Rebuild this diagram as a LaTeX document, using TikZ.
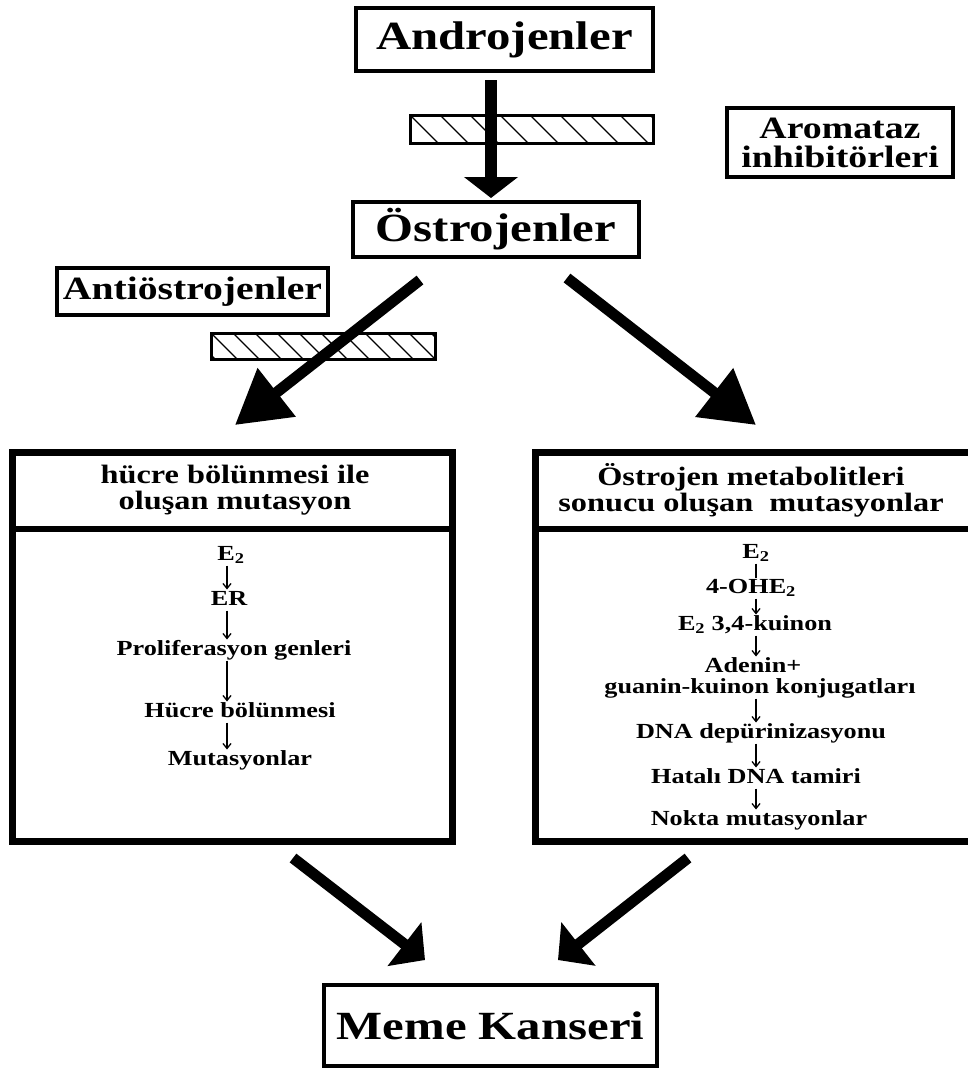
\documentclass[tikz,border=0pt]{standalone}
\usepackage{fontspec}
\newfontfamily\tf{Liberation Serif}[FakeStretch=1.22]
\usetikzlibrary{arrows.meta,calc}
\newcommand\myfs[2]{\fontsize{#1}{#2}\selectfont}
\begin{document}
\begin{tikzpicture}[x=1pt,y=-1pt,
  tbox/.style={draw, line width=4pt, inner sep=0pt, outer sep=0pt, align=center},
  bigfont/.style={font=\tf\bfseries\myfs{40}{44}},
  hfont/.style={font=\tf\bfseries\myfs{26.5}{26}, align=center, inner sep=0pt},
  ct/.style={font=\tf\bfseries\myfs{21.5}{22}, inner sep=1pt, outer sep=0pt, text height=15pt, text depth=4pt},
  hbar/.style={draw, line width=3pt, inner sep=0pt, outer sep=0pt,
    path picture={\foreach \k in {-2,...,14}{\draw[line width=1.4pt] ([xshift=\k*#1]path picture bounding box.north west) -- ++(40pt,-40pt);}}},
  bigbox/.style={draw, line width=7pt, inner sep=0pt, outer sep=0pt, minimum height=389},
  arrV/.style={line width=12pt, -{Triangle[length=21pt,width=53pt]}},
  arrD/.style={line width=11pt, -{Triangle[length=53pt,width=59pt]}},
  arrB/.style={line width=11pt, -{Triangle[length=26pt,width=54pt]}},
  smallarr/.style={line width=1.3pt, -{Straight Barb[length=5pt,width=8pt]}},
  divline/.style={line width=6.5pt}
]
\useasboundingbox (0,0) rectangle (968,1068);

% top part
\node[tbox, minimum width=297, minimum height=63, bigfont] (andro) at (504.5,39.5) {Androjenler};
\node[hbar=30pt, minimum width=243, minimum height=28] (bar1) at (531.5,129) {};
\node[tbox, minimum width=226, minimum height=69, font=\tf\bfseries\myfs{31}{29}] (arom) at (840,142.5) {Aromataz\\inhibitörleri};
\node[tbox, minimum width=286, minimum height=55, bigfont] (ostro) at (496,229.5) {Östrojenler};
\node[tbox, minimum width=271, minimum height=47, font=\tf\bfseries\myfs{32.5}{34}] (anti) at (192.5,291.5) {Antiöstrojenler};
\node[hbar=22pt, minimum width=224, minimum height=26] (bar2) at (323,346) {};

% big boxes
\node[bigbox, minimum width=440] (lbox) at (232,646.5) {};
\node[bigbox, minimum width=437] (rbox) at (753.5,646.5) {};
\coordinate (div) at (0,529);
\draw[divline] (lbox.west |- div) -- (lbox.east |- div);
\draw[divline] (rbox.west |- div) -- (rbox.east |- div);
\node[hfont] (lh) at (235,490) {hücre bölünmesi ile\\oluşan mutasyon};
\node[hfont] (rh) at (751,490) {Östrojen metabolitleri\\sonucu oluşan\ \ mutasyonlar};

% left column
\coordinate (lax) at (227,0);
\node[ct] (l1) at (231,555) {E\textsubscript{2}};
\node[ct] (l2) at (229,600) {ER};
\node[ct] (l3) at (234,650) {Proliferasyon genleri};
\node[ct] (l4) at (240,712) {Hücre bölünmesi};
\node[ct] (l5) at (240,760) {Mutasyonlar};
\draw[smallarr] (l1.south -| lax) -- (l2.north -| lax);
\draw[smallarr] (l2.south -| lax) -- (l3.north -| lax);
\draw[smallarr] (l3.south -| lax) -- (l4.north -| lax);
\draw[smallarr] (l4.south -| lax) -- (l5.north -| lax);

% right column
\coordinate (rax) at (756,0);
\node[ct] (r1) at (756,553) {E\textsubscript{2}};
\node[ct] (r2) at (751,588) {4-OHE\textsubscript{2}};
\node[ct] (r3) at (755,625) {E\textsubscript{2} 3,4-kuinon};
\node[ct] (r4) at (753,667) {Adenin+};
\node[ct] (r5) at (760,688) {guanin-kuinon konjugatları};
\node[ct] (r6) at (761,733) {DNA depürinizasyonu};
\node[ct] (r7) at (756,778) {Hatalı DNA tamiri};
\node[ct] (r8) at (759,820) {Nokta mutasyonlar};
\draw[line width=2pt] (r1.south -| rax) -- (r2.north -| rax);
\draw[smallarr] (r2.south -| rax) -- (r3.north -| rax);
\draw[smallarr] (r3.south -| rax) -- (r4.north -| rax);
\draw[smallarr] (r5.south -| rax) -- (r6.north -| rax);
\draw[smallarr] (r6.south -| rax) -- (r7.north -| rax);
\draw[smallarr] (r7.south -| rax) -- (r8.north -| rax);

% bottom
\node[tbox, minimum width=333, minimum height=81, bigfont] (meme) at (490.5,1025.5) {Meme Kanseri};

% big arrows
\draw[arrV] ($(andro.south)+(-13.5,9)$) -- ($(ostro.north)+(-5,-4)$);
\draw[arrD] ($(ostro.south)+(-76,23)$) -- ($(lbox.north)+(3,-27)$);
\draw[arrD] ($(ostro.south)+(71,21)$) -- ($(rbox.north)+(2.5,-27)$);
\draw[arrB] ($(lbox.south)+(61,17)$) -- ($(meme.north)+(-65.5,-25)$);
\draw[arrB] ($(rbox.south)+(-65.5,17)$) -- ($(meme.north)+(67.5,-25)$);
\end{tikzpicture}
\end{document}
